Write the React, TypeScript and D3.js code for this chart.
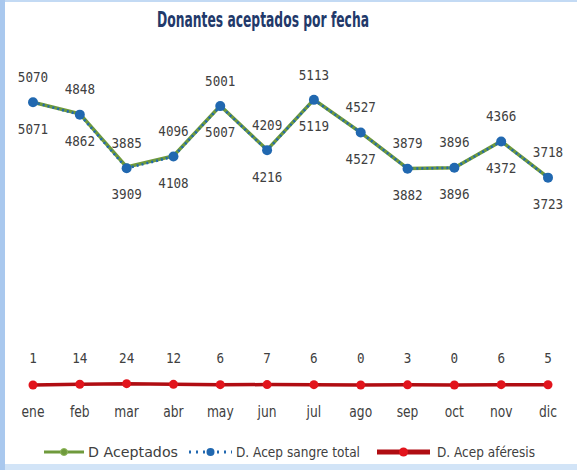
import React from 'react';
import * as d3 from 'd3';

const months = ['ene', 'feb', 'mar', 'abr', 'may', 'jun', 'jul', 'ago', 'sep', 'oct', 'nov', 'dic'];
const aceptados = [5071, 4862, 3909, 4108, 5007, 4216, 5119, 4527, 3882, 3896, 4372, 3723];
const sangreTotal = [5070, 4848, 3885, 4096, 5001, 4209, 5113, 4527, 3879, 3896, 4366, 3718];
const aferesis = [1, 14, 24, 12, 6, 7, 6, 0, 3, 0, 6, 5];

const W = 577;
const H = 470;

const GREEN = '#6f9a3c';
const BLUE = '#2168b0';
const RED_LINE = '#b00d12';
const RED_DOT = '#e2141c';
const TEXT = '#404040';

const labelFont = '"DejaVu Sans Mono", monospace';
const sans = '"DejaVu Sans", sans-serif';

// squeeze a text horizontally, the source used a condensed face
const squeeze = (x: number, y: number, s: number) => `translate(${x},${y}) scale(${s},1)`;

export default function App() {
  const x = d3.scalePoint<string>().domain(months).range([33, 548]);
  const y = d3.scaleLinear().domain([0, 5200]).range([385, 95]);

  const line = d3
    .line<number>()
    .x((_, i) => x(months[i])!)
    .y((d) => y(d));

  const legend = [
    { label: 'D Aceptados', x0: 44, x1: 84, tx: 88, tw: 90 },
    { label: 'D. Acep sangre total', x0: 189, x1: 232, tx: 236, tw: 124 },
    { label: 'D. Acep aféresis', x0: 377, x1: 430, tx: 437, tw: 98 },
  ];

  return (
    <svg width={W} height={H} style={{ position: 'absolute', left: 0, top: 0, background: '#fff' }}>
      {/* frame */}
      <rect x={0} y={0} width={W} height={2} fill="#c3daf4" />
      <rect x={0} y={H - 6} width={W} height={6} fill="#d2e4f7" />
      <rect x={0} y={0} width={5} height={H} fill="#a9c8ee" />

      <text
        x={157}
        y={27}
        fontFamily={sans}
        fontWeight="bold"
        fontSize={21}
        textLength={212}
        lengthAdjust="spacingAndGlyphs"
        fill="#22396a"
      >
        Donantes aceptados por fecha
      </text>

      {/* D Aceptados */}
      <path d={line(aceptados)!} fill="none" stroke={GREEN} strokeWidth={3.5} />
      {aceptados.map((v, i) => (
        <circle key={'g' + i} cx={x(months[i])} cy={y(v)} r={3.5} fill={GREEN} />
      ))}

      {/* D. Acep sangre total */}
      <path d={line(sangreTotal)!} fill="none" stroke={BLUE} strokeWidth={2.5} strokeDasharray="2,3" />
      {sangreTotal.map((v, i) => (
        <circle key={'b' + i} cx={x(months[i])} cy={y(v)} r={5} fill={BLUE} />
      ))}

      {/* D. Acep aferesis */}
      <path d={line(aferesis)!} fill="none" stroke={RED_LINE} strokeWidth={3.5} />
      {aferesis.map((v, i) => (
        <circle key={'r' + i} cx={x(months[i])} cy={y(v)} r={4.5} fill={RED_DOT} />
      ))}

      {/* data labels */}
      <g fontFamily={labelFont} fontSize={14} fill={TEXT} textAnchor="middle">
        {sangreTotal.map((v, i) => (
          <text key={'ls' + i} transform={squeeze(x(months[i])!, y(v) - 25, 0.9)} dominantBaseline="central">
            {v}
          </text>
        ))}
        {aceptados.map((v, i) => (
          <text key={'la' + i} transform={squeeze(x(months[i])!, y(v) + 27, 0.9)} dominantBaseline="central">
            {v}
          </text>
        ))}
        {aferesis.map((v, i) => (
          <text key={'lr' + i} transform={squeeze(x(months[i])!, 358, 0.9)} dominantBaseline="central">
            {v}
          </text>
        ))}
      </g>

      {/* month axis labels */}
      <g fontFamily={sans} fontSize={15} fill={TEXT} textAnchor="middle">
        {months.map((m) => (
          <text key={m} transform={squeeze(x(m)!, 412, 0.82)} dominantBaseline="central">
            {m}
          </text>
        ))}
      </g>

      {/* legend */}
      <g fontFamily={sans} fontSize={14} fill={TEXT}>
        <line x1={legend[0].x0} x2={legend[0].x1} y1={452} y2={452} stroke={GREEN} strokeWidth={3} />
        <circle cx={(legend[0].x0 + legend[0].x1) / 2} cy={452} r={3.5} fill={GREEN} stroke="#8fb85c" strokeWidth={1} />

        <line x1={legend[1].x0} x2={legend[1].x1} y1={452} y2={452} stroke={BLUE} strokeWidth={3} strokeDasharray="2,5" />
        <circle cx={(legend[1].x0 + legend[1].x1) / 2} cy={452} r={4} fill={BLUE} />

        <line x1={legend[2].x0} x2={legend[2].x1} y1={452} y2={452} stroke={RED_LINE} strokeWidth={5} />
        <circle cx={(legend[2].x0 + legend[2].x1) / 2} cy={452} r={4.5} fill={RED_DOT} />

        {legend.map((d) => (
          <text
            key={d.label}
            x={d.tx}
            y={452}
            dominantBaseline="central"
            textLength={d.tw}
            lengthAdjust="spacingAndGlyphs"
          >
            {d.label}
          </text>
        ))}
      </g>
    </svg>
  );
}
